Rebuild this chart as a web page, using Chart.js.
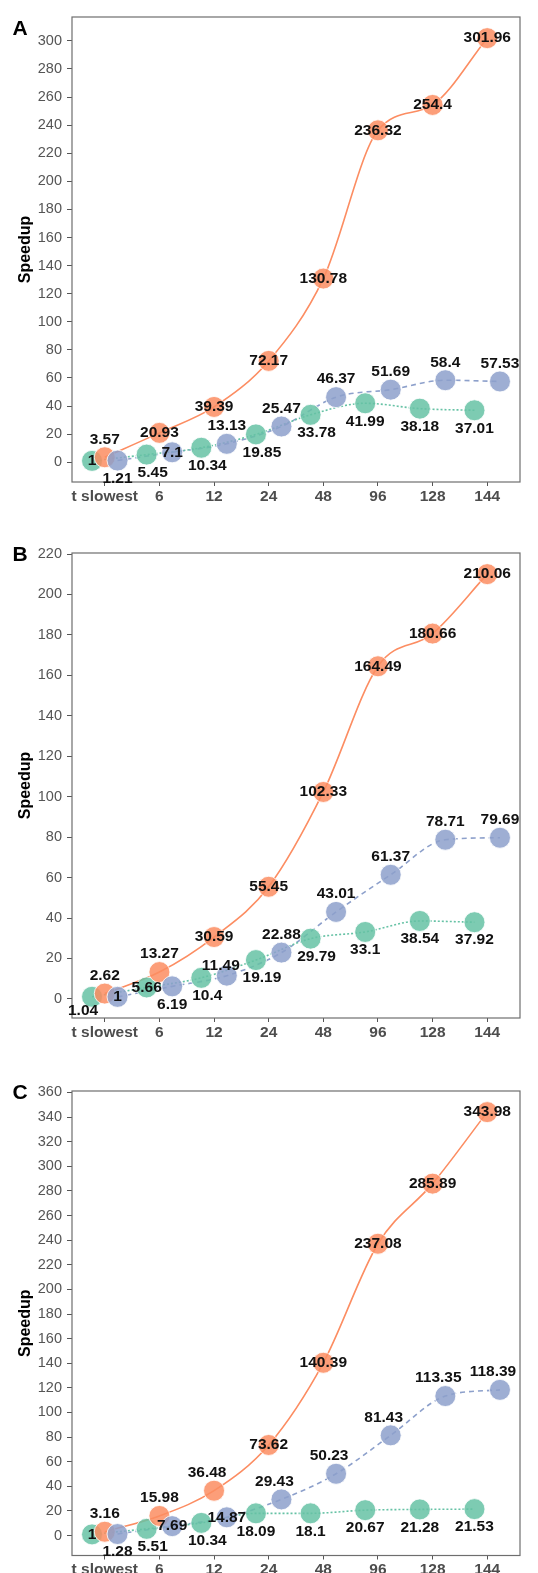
<!DOCTYPE html>
<html lang="en">
<head>
    <meta charset="UTF-8">
    <title>Speedup</title>
    <script src="https://cdn.jsdelivr.net/npm/chart.js@4.4.0/dist/chart.umd.min.js"></script>
    <style>
        body {
            margin: 0;
            background: #fff;
            overflow: hidden;
        }
        canvas {
            display: block;
        }
    </style>
</head>
<body>
    <canvas id="chartA" width="538" height="510"></canvas>
    <canvas id="chartB" width="538" height="536"></canvas>
    <canvas id="chartC" width="538" height="527"></canvas>

    <script>
        const threads = ['t slowest', '6', '12', '24', '48', '96', '128', '144'];

        // Panel A
        const orangeA = [3.57, 20.93, 39.39, 72.17, 130.78, 236.32, 254.4, 301.96];
        const blueA = [1.21, 7.1, 13.13, 25.47, 46.37, 51.69, 58.4, 57.53];
        const greenA = [1, 5.45, 10.34, 19.85, 33.78, 41.99, 38.18, 37.01];

        // Panel B
        const orangeB = [2.62, 13.27, 30.59, 55.45, 102.33, 164.49, 180.66, 210.06];
        const blueB = [1, 6.19, 11.49, 22.88, 43.01, 61.37, 78.71, 79.69];
        const greenB = [1.04, 5.66, 10.4, 19.19, 29.79, 33.1, 38.54, 37.92];

        // Panel C
        const orangeC = [3.16, 15.98, 36.48, 73.62, 140.39, 237.08, 285.89, 343.98];
        const blueC = [1.28, 7.69, 14.87, 29.43, 50.23, 81.43, 113.35, 118.39];
        const greenC = [1, 5.51, 10.34, 18.09, 18.1, 20.67, 21.28, 21.53];

        // where each value label sits relative to its point
        const nudges = {
            c: [0, 0], a: [0, -18], al: [-7, -18], b: [0, 18],
            br: [6, 18], bl: [-9, 14], nl: [-6, -10]
        };
        const placeA = {
            orange: ['a', 'c', 'c', 'c', 'c', 'c', 'c', 'c'],
            green: ['c', 'br', 'br', 'br', 'br', 'b', 'b', 'b'],
            blue: ['b', 'c', 'a', 'a', 'a', 'a', 'a', 'a']
        };
        const placeB = {
            orange: ['a', 'a', 'c', 'c', 'c', 'c', 'c', 'c'],
            green: ['bl', 'c', 'br', 'br', 'br', 'b', 'b', 'b'],
            blue: ['c', 'b', 'nl', 'a', 'a', 'a', 'a', 'a']
        };
        const placeC = {
            orange: ['a', 'a', 'al', 'c', 'c', 'c', 'c', 'c'],
            green: ['c', 'br', 'br', 'b', 'b', 'b', 'b', 'b'],
            blue: ['b', 'c', 'c', 'al', 'al', 'al', 'al', 'al']
        };

        const FONT = "'Liberation Sans', Arial, Helvetica, sans-serif";
        const DODGE = 0.7 / 3;

        const series = {
            green: { line: '#66C2A5', fill: 'rgba(102,194,165,0.85)', dash: [2, 2], shift: -DODGE },
            orange: { line: '#FC8D62', fill: 'rgba(252,141,98,0.85)', dash: [], shift: 0 },
            blue: { line: '#8DA0CB', fill: 'rgba(141,160,203,0.85)', dash: [5, 4], shift: DODGE }
        };

        // border, value labels and panel letter
        const panelDecor = {
            id: 'panelDecor',
            afterDatasetsDraw(chart, args, opts) {
                const { ctx, chartArea: a } = chart;
                ctx.save();
                ctx.strokeStyle = '#6e6e6e';
                ctx.lineWidth = 1.2;
                ctx.strokeRect(a.left, a.top, a.right - a.left, a.bottom - a.top);

                ctx.fillStyle = '#111';
                ctx.textAlign = 'center';
                ctx.textBaseline = 'middle';
                ctx.font = 'bold 15.5px ' + FONT;
                chart.data.datasets.forEach((ds, di) => {
                    if (!ds.place) return;
                    chart.getDatasetMeta(di).data.forEach((pt, i) => {
                        const [dx, dy] = nudges[ds.place[i]];
                        ctx.fillText(String(ds.values[i]), pt.x + dx, pt.y + dy);
                    });
                });

                ctx.fillStyle = '#000';
                ctx.font = 'bold 21px ' + FONT;
                ctx.fillText(opts.letter, 20, a.top + opts.letterDy);
                ctx.restore();
            }
        };

        function makePanel(id, letter, letterDy, padTop, axisHeight, values, place) {
            const all = [].concat(values.green, values.orange, values.blue);
            const lo = Math.min(...all), hi = Math.max(...all);
            const pad = (hi - lo) * 0.05;
            const yMin = lo - pad, yMax = hi + pad;

            const datasets = [];
            ['green', 'orange', 'blue'].forEach((key, k) => {
                const s = series[key];
                const pts = values[key].map((v, i) => ({ x: i + 1 + s.shift, y: v }));
                datasets.push({
                    data: pts,
                    borderColor: s.line,
                    borderWidth: 1.6,
                    borderDash: s.dash,
                    pointRadius: 0,
                    cubicInterpolationMode: 'monotone',
                    fill: false,
                    order: 10
                });
                datasets.push({
                    data: pts,
                    showLine: false,
                    pointRadius: 10.5,
                    pointHoverRadius: 10.5,
                    pointBackgroundColor: s.fill,
                    pointBorderColor: '#fff',
                    pointBorderWidth: 0.8,
                    order: 3 - k,
                    values: values[key],
                    place: place[key]
                });
            });

            new Chart(document.getElementById(id), {
                type: 'line',
                data: { datasets },
                plugins: [panelDecor],
                options: {
                    responsive: false,
                    animation: false,
                    devicePixelRatio: 1,
                    layout: { padding: { top: padTop, right: 18, left: 0, bottom: 0 } },
                    plugins: {
                        legend: { display: false },
                        tooltip: { enabled: false },
                        panelDecor: { letter, letterDy }
                    },
                    scales: {
                        x: {
                            type: 'linear',
                            min: 0.4,
                            max: 8.6,
                            afterBuildTicks: axis => {
                                axis.ticks = threads.map((t, i) => ({ value: i + 1 }));
                            },
                            afterFit: axis => { axis.height = axisHeight; },
                            ticks: {
                                autoSkip: false,
                                maxRotation: 0,
                                padding: 1,
                                color: '#4d4d4d',
                                font: { family: FONT, size: 15.5, weight: 'bold' },
                                callback: v => threads[v - 1]
                            },
                            grid: { drawOnChartArea: false, tickLength: 4, color: '#555' },
                            border: { display: false }
                        },
                        y: {
                            min: yMin,
                            max: yMax,
                            afterBuildTicks: axis => {
                                const ticks = [];
                                for (let v = 0; v <= yMax; v += 20) ticks.push({ value: v });
                                axis.ticks = ticks;
                            },
                            afterFit: axis => { axis.width = 72; },
                            ticks: {
                                padding: 5,
                                color: '#555',
                                font: { family: FONT, size: 14.5 }
                            },
                            grid: { drawOnChartArea: false, tickLength: 5, color: '#555' },
                            border: { display: false },
                            title: {
                                display: true,
                                text: 'Speedup',
                                color: '#000',
                                font: { family: FONT, size: 16, weight: 'bold' },
                                padding: { top: 16, bottom: 0 }
                            }
                        }
                    }
                }
            });
        }

        makePanel('chartA', 'A', 12, 17, 28, { orange: orangeA, blue: blueA, green: greenA }, placeA);
        makePanel('chartB', 'B', 2, 43, 28, { orange: orangeB, blue: blueB, green: greenB }, placeB);
        makePanel('chartC', 'C', 2, 45, 17.5, { orange: orangeC, blue: blueC, green: greenC }, placeC);
    </script>
</body>
</html>
